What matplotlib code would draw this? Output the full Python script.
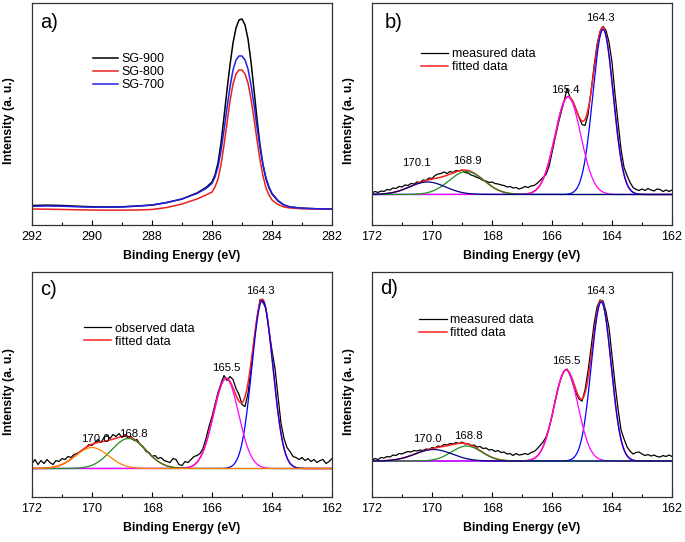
import numpy as np
import matplotlib
matplotlib.use('Agg')
import matplotlib.pyplot as plt
from matplotlib.ticker import MultipleLocator

plt.rcParams['font.family'] = ['Liberation Sans', 'DejaVu Sans']

# ---- panel a: C 1s spectra (intensity in a.u.)
c1s_energy = [292, 291.5, 291, 290.5, 290, 289.5, 289, 288.5, 288, 287.5, 287, 286.5,
              286.2, 286.0, 285.9, 285.8, 285.7, 285.6, 285.5, 285.4, 285.3, 285.2,
              285.1, 285.0, 284.9, 284.8, 284.7, 284.6, 284.5, 284.4, 284.3, 284.2,
              284.1, 284.0, 283.8, 283.6, 283.4, 283.0, 282.5, 282.0]
sg900 = [19.5, 19.8, 19.5, 18.8, 18.2, 18, 18.2, 19, 20, 22.5, 26, 32, 37.5, 43, 50, 62,
         82, 108, 135, 160, 182, 197, 205, 206, 200, 186, 163, 135, 106, 80, 60, 46, 37,
         31, 24, 20, 18, 16.8, 16.2, 16]
sg800 = [16, 15.8, 15.5, 15.2, 15, 14.8, 14.8, 15, 15.5, 17.5, 21, 26, 30, 33, 38, 46,
         60, 80, 102, 124, 141, 151, 155, 155, 151, 142, 126, 106, 85, 65, 49, 37, 30,
         25, 20.5, 18, 17, 16.2, 16, 16]
sg700 = [18.7, 19, 18.8, 18.2, 17.8, 17.8, 18, 18.8, 19.8, 22.5, 26, 31.5, 36.5, 41.5,
         48, 58, 74, 95, 117, 138, 155, 165, 169, 169, 165, 156, 140, 120, 98, 77, 60,
         47, 38, 31.5, 24.5, 20, 18, 16.8, 16.2, 16]

# ---- panels b-d: S 2p spectra, sampled every 0.1 eV from 172 to 162
s2p_energy = np.linspace(172.0, 162.0, 101)

b_measured = [1.5, 3, 2, 3.5, 3, 5, 4.5, 6.5, 6, 8,
              7.5, 9.5, 9, 11, 10.5, 12.5, 12, 14.5, 14, 16.5,
              16, 19, 20.5, 21, 22.5, 21, 23, 22, 24, 23.5,
              24.5, 22, 21.5, 19.5, 18.5, 17, 16, 14, 13.5, 12,
              12.5, 11, 10.5, 9.5, 9, 7.5, 8, 6.5, 7, 5.5,
              6.5, 8, 7, 8.5, 9, 11, 14, 17, 20, 28,
              42, 56, 70, 82, 93, 106, 97, 93, 85, 77,
              70, 69, 80, 103, 128, 150, 163, 168, 164, 152,
              132, 100, 72, 45, 27, 19, 12, 7, 5, 4,
              5.5, 4, 6, 4.5, 3.5, 5.5, 5, 3, 4.5, 3,
              4.5]
c_measured = [5, 9, 4, 8, 5, 9, 6, 4, 8, 7,
              10, 9, 12, 11, 14, 15, 17, 19, 21, 24,
              23, 26, 29, 26, 31, 33, 30, 34, 32, 35,
              31, 34, 30, 32, 28, 29, 24, 22, 17, 16,
              12, 13, 10, 11, 8, 7, 6, 10, 9, 4,
              3, 7, 6, 9, 12, 13, 15, 20, 30, 42,
              52, 64, 76, 85, 93, 88, 92, 89, 80, 74,
              64, 62, 75, 100, 128, 150, 169, 166, 160, 138,
              118, 100, 72, 45, 30, 21, 17, 12, 11, 9,
              11, 8, 10, 7, 9, 6, 8, 9, 5, 7,
              10]
d_measured = [1, 2.5, 1.5, 3.5, 3, 4.5, 4, 6, 5.5, 7.5,
              7, 8.5, 9.5, 9, 10.5, 10, 11, 10.5, 12, 11.5,
              13.5, 13, 15, 14.5, 16.5, 16, 17.5, 17, 18.5, 17.5,
              19, 17, 17.5, 15.5, 16, 14, 14.5, 12.5, 13, 11,
              11.5, 9.5, 10.5, 8.5, 9, 7, 7.5, 5.5, 7.5, 6,
              6.5, 7.5, 6.5, 8.5, 9.5, 12, 15.5, 19, 24, 33,
              45, 60, 73, 83, 90, 92, 86, 77, 68, 62,
              60, 71, 90, 113, 137, 154, 161, 160, 149, 133,
              105, 77, 52, 31, 22, 14, 10, 7, 8.5, 9,
              7, 5.5, 6.5, 5, 6, 4.5, 4, 5.5, 4.5, 6,
              4.5]

# fitted gaussian components: centre (eV), height, sigma (eV)
b_centers = [164.3, 165.47, 168.85, 170.15]
b_heights = [165, 97.5, 23, 12.5]
b_sigmas = [0.34, 0.43, 0.58, 0.6]

c_centers = [164.32, 165.53, 168.78, 170.0]
c_heights = [168, 90, 30, 21]
c_sigmas = [0.35, 0.42, 0.58, 0.55]

d_centers = [164.36, 165.53, 168.85, 169.95]
d_heights = [159, 91, 15, 11.5]
d_sigmas = [0.33, 0.40, 0.5, 0.62]

b_peak_labels = ['164.3', '165.4', '170.1', '168.9']
c_peak_labels = ['164.3', '165.5', '170.0', '168.8']
d_peak_labels = ['164.3', '165.5', '170.0', '168.8']

BLUE, MAGENTA, GREEN, NAVY, ORANGE = '#0000ff', '#ff00ff', '#1f8f1f', '#000080', '#ff8000'
FIT_RED = '#ff2020'


def gauss(x, c, h, s):
    return h * np.exp(-0.5 * ((x - c) / s) ** 2)


def style_axes(ax, xlim, ylim):
    ax.set_xlim(*xlim)
    ax.set_ylim(*ylim)
    ax.xaxis.set_major_locator(MultipleLocator(2))
    ax.xaxis.set_minor_locator(MultipleLocator(1))
    ax.tick_params(axis='x', which='both', direction='in', top=False, labelsize=9, pad=4.5)
    ax.tick_params(axis='x', which='major', length=3.5, width=0.8)
    ax.tick_params(axis='x', which='minor', length=2.5, width=0.8)
    ax.set_yticks([])
    for sp in ax.spines.values():
        sp.set_linewidth(0.9)
        sp.set_color('#333333')
    ax.set_xlabel('Binding Energy (eV)', fontsize=8.8, fontweight='bold', labelpad=5)
    ax.set_ylabel('Intensity (a. u.)', fontsize=8.8, fontweight='bold')
    ax.yaxis.set_label_coords(-0.057, 0.47)


def legend(ax, x, y, hl=2.2, pad=0.3):
    ax.legend(loc='center left', bbox_to_anchor=(x, y), frameon=False, fontsize=9,
              borderpad=0, borderaxespad=0, handlelength=hl, handletextpad=pad,
              labelspacing=0.08)


def s2p_panel(ax, measured, centers, heights, sigmas, colors, meas_label,
              label_pos, labels, ylim):
    x = np.linspace(172.0, 162.0, 501)
    comps = [gauss(x, c, h, s) for c, h, s in zip(centers, heights, sigmas)]
    ax.plot(s2p_energy, measured, color='black', lw=0.9, label=meas_label)
    ax.plot(x, np.sum(comps, axis=0), color=FIT_RED, lw=1.1, label='fitted data')
    for comp, col in zip(comps, colors):
        ax.plot(x, comp, color=col, lw=0.9)
    for (px, py), txt in zip(label_pos, labels):
        ax.text(px, py, txt, fontsize=8.2, ha='center', va='center')
    style_axes(ax, (172, 162), ylim)


fig = plt.figure(figsize=(6.85, 5.42), dpi=100)
ax_a = fig.add_axes([0.0467, 0.5849, 0.438, 0.4096])
ax_b = fig.add_axes([0.5431, 0.5849, 0.438, 0.4096])
ax_c = fig.add_axes([0.0467, 0.0830, 0.438, 0.4151])
ax_d = fig.add_axes([0.5431, 0.0830, 0.438, 0.4151])

# a)
ax_a.plot(c1s_energy, sg900, color='black', lw=1.1, label='SG-900')
ax_a.plot(c1s_energy, sg800, color='#e82020', lw=1.1, label='SG-800')
ax_a.plot(c1s_energy, sg700, color='#2020e8', lw=1.1, label='SG-700')
style_axes(ax_a, (292, 282), (0, 222))
legend(ax_a, 0.203, 0.689, hl=2.0, pad=0.25)

# b)
s2p_panel(ax_b, b_measured, b_centers, b_heights, b_sigmas,
          [BLUE, MAGENTA, GREEN, NAVY], 'measured data',
          [(164.4, 176.5), (165.57, 104.5), (170.53, 31.5), (168.83, 33.5)],
          b_peak_labels, (-30.5, 191.5))
legend(ax_b, 0.163, 0.741)

# c)
s2p_panel(ax_c, c_measured, c_centers, c_heights, c_sigmas,
          [BLUE, MAGENTA, GREEN, ORANGE], 'observed data',
          [(164.38, 177.8), (165.53, 101), (169.9, 30), (168.63, 35)],
          c_peak_labels, (-28.5, 196.5))
legend(ax_c, 0.173, 0.719)

# d)
s2p_panel(ax_d, d_measured, d_centers, d_heights, d_sigmas,
          [BLUE, MAGENTA, GREEN, NAVY], 'measured data',
          [(164.4, 170.3), (165.53, 100.3), (170.16, 22), (168.79, 25.3)],
          d_peak_labels, (-36, 189))
legend(ax_d, 0.157, 0.758)

for ax, tag, tx, ty in [(ax_a, 'a)', 0.027, 0.914), (ax_b, 'b)', 0.043, 0.91),
                        (ax_c, 'c)', 0.027, 0.924), (ax_d, 'd)', 0.027, 0.929)]:
    ax.text(tx, ty, tag, transform=ax.transAxes, fontsize=14.5, ha='left', va='center')

fig.savefig('out.png', dpi=100)
